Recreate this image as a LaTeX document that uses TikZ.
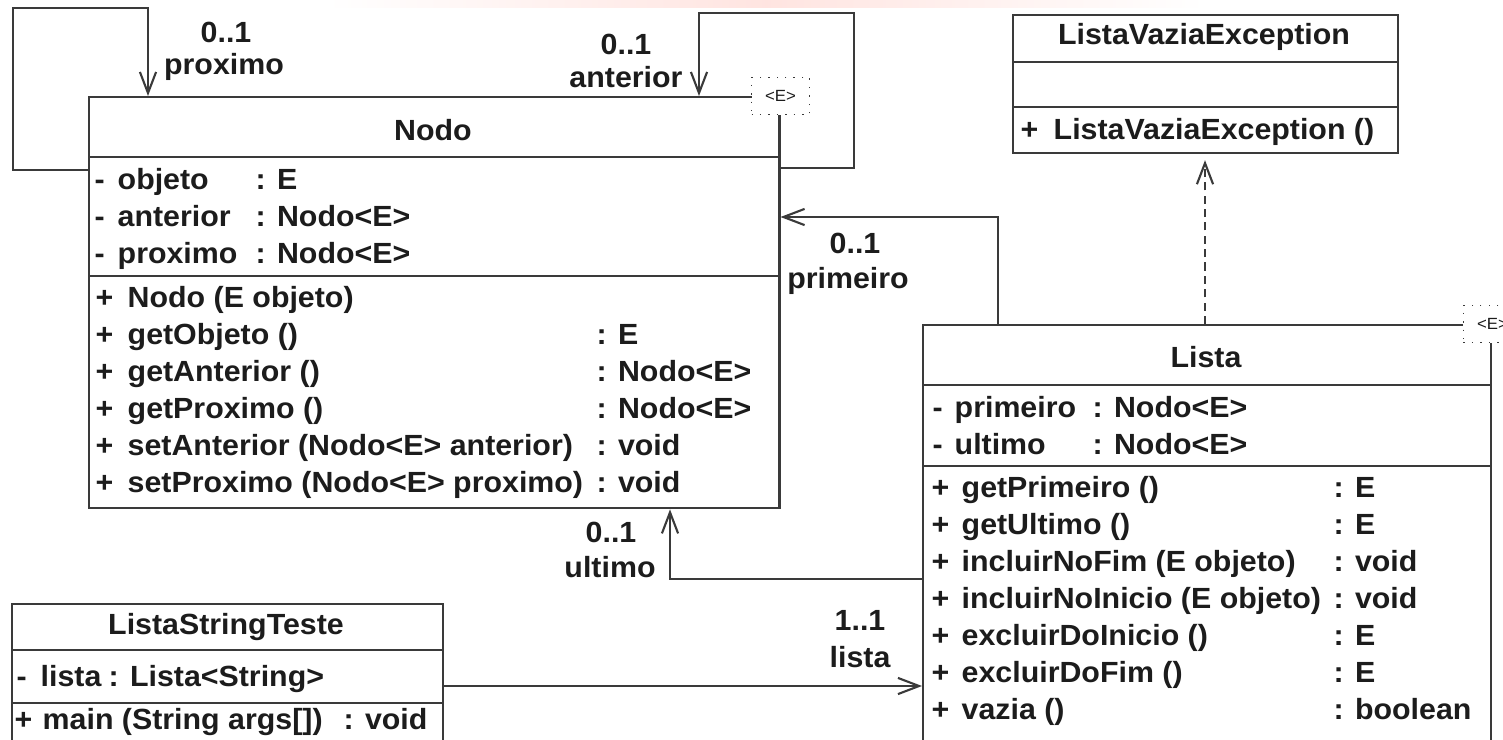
\documentclass[tikz,border=0pt]{standalone}
\usepackage{fontspec}
\setmainfont{Liberation Sans}
\newfontfamily\umlfont{Liberation Sans}[FakeStretch=1.04]
\usetikzlibrary{arrows.meta}

\definecolor{linegray}{HTML}{3A3A3A}
\definecolor{textgray}{HTML}{1C1C1C}

\begin{document}
\begin{tikzpicture}[x=0.01cm, y=-0.01cm,
    every node/.style={font=\umlfont\bfseries\fontsize{8.3}{10}\selectfont, text=textgray, inner sep=0pt},
    classbox/.style={draw=linegray, line width=0.6pt, fill=white, anchor=north west},
    divider/.style={draw=linegray, line width=0.6pt},
    tparam/.style={draw=linegray, dotted, fill=white, minimum width=0.58cm, minimum height=0.37cm,
      font=\umlfont\fontsize{4.6}{5.5}\selectfont},
    row/.style={anchor=mid west},
    assoc/.style={draw=linegray, line width=0.6pt, -{Straight Barb[length=6pt,width=4.6pt]}},
    realize/.style={assoc, dash pattern=on 2.3pt off 1.5pt, shorten >=1.7pt}]
  \path[use as bounding box, clip] (0,0) rectangle (1503,739);
  \shade[left color=white, right color=white, middle color=orange!25!red!12] (326,0) rectangle (1206,7);

  % classes
  \node[classbox, minimum width=6.90cm, minimum height=4.11cm] (nodo) at (88,96) {};
  \draw[divider] (nodo.west |- 0,157) -- (nodo.east |- 0,157);
  \draw[divider] (nodo.west |- 0,276) -- (nodo.east |- 0,276);
  \node (nodoName) at (433,130) {Nodo};
  \foreach \n/\t [count=\i from 0] in {objeto/{: E}, anterior/{: Nodo<E>}, proximo/{: Nodo<E>}} {
    \node[row] (nodoVis\i) at (94,{180+37*\i}) {-};
    \node[row] (nodoAtt\i) at (117,{180+37*\i}) {\n};
    \node[row] (nodoTyp\i) at (255,{180+37*\i}) {\t};
  }
  \foreach \n/\t [count=\i from 0] in {Nodo (E objeto)/{}, getObjeto ()/{: E}, getAnterior ()/{: Nodo<E>},
      getProximo ()/{: Nodo<E>}, setAnterior (Nodo<E> anterior)/{: void}, setProximo (Nodo<E> proximo)/{: void}} {
    \node[row] (nodoOpV\i) at (95,{298+37*\i}) {+};
    \node[row] (nodoOp\i) at (127,{298+37*\i}) {\n};
    \node[row] (nodoRet\i) at (596,{298+37*\i}) {\t};
  }

  \node[classbox, minimum width=3.85cm, minimum height=1.38cm] (exc) at (1012,14) {};
  \draw[divider] (exc.west |- 0,62) -- (exc.east |- 0,62);
  \draw[divider] (exc.west |- 0,107) -- (exc.east |- 0,107);
  \node (excName) at (1204,37) {ListaVaziaException};
  \node[row] (excOpV) at (1020,130) {+};
  \node[row] (excOp) at (1053,130) {ListaVaziaException ()};

  \node[classbox, minimum width=5.68cm, minimum height=4.40cm] (lista) at (922,324) {};
  \draw[divider] (lista.west |- 0,385) -- (lista.east |- 0,385);
  \draw[divider] (lista.west |- 0,466) -- (lista.east |- 0,466);
  \node (listaName) at (1206,357) {Lista};
  \foreach \n [count=\i from 0] in {primeiro, ultimo} {
    \node[row] (listaVis\i) at (932,{408+37*\i}) {-};
    \node[row] (listaAtt\i) at (954,{408+37*\i}) {\n};
    \node[row] (listaTyp\i) at (1092,{408+37*\i}) {: Nodo<E>};
  }
  \foreach \n/\t [count=\i from 0] in {getPrimeiro ()/{: E}, getUltimo ()/{: E}, incluirNoFim (E objeto)/{: void},
      incluirNoInicio (E objeto)/{: void}, excluirDoInicio ()/{: E}, excluirDoFim ()/{: E}, vazia ()/{: boolean}} {
    \node[row] (listaOpV\i) at (931,{488+37*\i}) {+};
    \node[row] (listaOp\i) at (961,{488+37*\i}) {\n};
    \node[row] (listaRet\i) at (1333,{488+37*\i}) {\t};
  }

  \node[classbox, minimum width=4.31cm, minimum height=1.60cm] (teste) at (11,603) {};
  \draw[divider] (teste.west |- 0,650) -- (teste.east |- 0,650);
  \draw[divider] (teste.west |- 0,703) -- (teste.east |- 0,703);
  \node (testeName) at (226,627) {ListaStringTeste};
  \node[row] (testeVis) at (16,677) {-};
  \node[row] (testeAtt) at (40,677) {lista};
  \node[row] (testeTyp) at (108,677) {: Lista<String>};
  \node[row] (testeOpV) at (14,720) {+};
  \node[row] (testeOp) at (42,720) {main (String args[])};
  \node[row] (testeRet) at (343,720) {: void};

  % template parameters
  \node[tparam] (nodoT) at (nodo.north east) {<E>};
  \node[tparam] (listaT) at (lista.north east) {<E>};

  % associations
  \draw[assoc] (nodo.west |- 0,170) -| (13,8) -| (nodo.north -| 148,0);
  \node (proxMult) at (226,32) {0..1};
  \node (proxRole) at (224,67) {proximo};
  \draw[assoc] (nodo.east |- 0,168) -| (854,13) -| (nodo.north -| 699,0);
  \node (antMult) at (626,44) {0..1};
  \node (antRole) at (626,77) {anterior};
  \draw[assoc] (lista.north -| 998,0) |- (nodo.east |- 0,217);
  \node (primMult) at (855,243) {0..1};
  \node (primRole) at (848,281) {primeiro};
  \draw[assoc] (lista.west |- 0,579) -| (nodo.south -| 670,0);
  \node (ultMult) at (611,532) {0..1};
  \node (ultRole) at (610,567) {ultimo};
  \draw[assoc] (teste.east |- 0,686) -- (lista.west |- 0,686);
  \node (lstMult) at (860,620) {1..1};
  \node (lstRole) at (860,657) {lista};
  \draw[realize] (lista.north -| 1205,0) -- (exc.south -| 1205,0);
\end{tikzpicture}
\end{document}
